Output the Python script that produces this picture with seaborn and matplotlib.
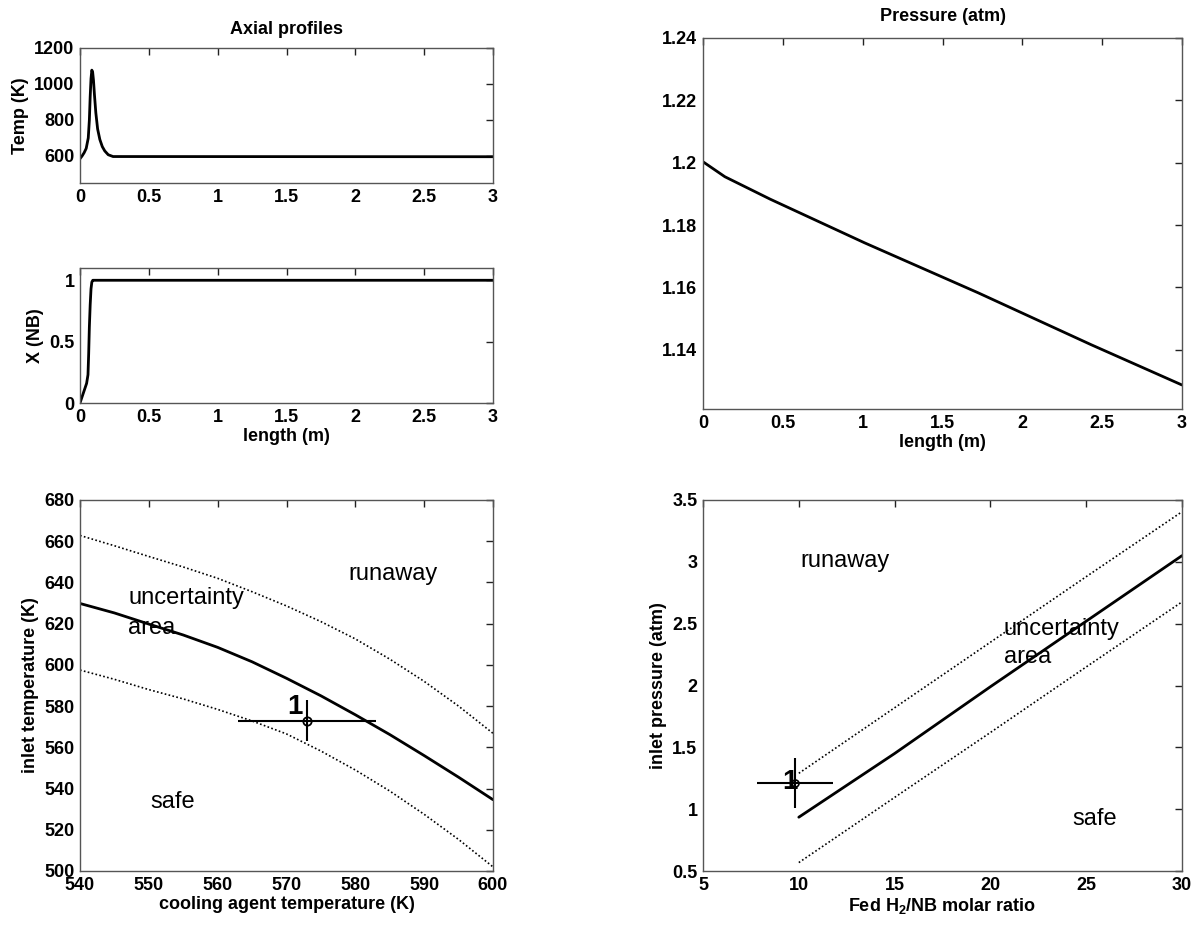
import numpy as np
import pandas as pd
import matplotlib
matplotlib.use('Agg')
import matplotlib.pyplot as plt
import seaborn as sns

sns.set_style('white')
plt.rcParams['font.family'] = ['Liberation Sans', 'DejaVu Sans']
plt.rcParams['font.weight'] = 'bold'
plt.rcParams['mathtext.fontset'] = 'custom'
plt.rcParams['mathtext.bf'] = 'Liberation Sans:bold'
plt.rcParams['text.color'] = 'black'
plt.rcParams['axes.labelcolor'] = 'black'
plt.rcParams['xtick.color'] = 'black'
plt.rcParams['ytick.color'] = 'black'

# ----------------------------------------------------
# Axial profiles
# ----------------------------------------------------
len_temp = [0, 0.015, 0.03, 0.045, 0.06, 0.068, 0.074, 0.08, 0.086, 0.092, 0.098,
            0.105, 0.115, 0.128, 0.144, 0.162, 0.18, 0.205, 0.24, 3.0]
temp_K = [585, 600, 618, 642, 700, 800, 930, 1030, 1077, 1065, 1020,
          940, 840, 750, 692, 652, 628, 607, 597, 596]

len_conv = [0, 0.024, 0.048, 0.058, 0.063, 0.068, 0.074, 0.08, 0.086, 0.093, 0.1, 3.0]
conv_NB = [0, 0.08, 0.16, 0.23, 0.4, 0.62, 0.8, 0.93, 0.985, 1.0, 1.0, 1.0]

len_pres = [0, 0.137, 0.421, 1.012, 1.722, 2.432, 3.0]
pres_atm = [1.2003, 1.1955, 1.1883, 1.1743, 1.1583, 1.1416, 1.1287]

# ----------------------------------------------------
# Runaway boundaries - cooling agent temperature
# ----------------------------------------------------
t_cool = [540, 545, 550, 555, 560, 565, 570, 575, 580, 585, 590, 595, 600]
t_in_mid = [629.8, 625.2, 619.8, 614.5, 608.5, 601.5, 593.5, 585.0, 575.8, 566.2, 556.0, 545.5, 534.6]
t_in_up = [662.8, 657.8, 652.6, 647.5, 642.0, 635.5, 628.6, 621.0, 612.6, 602.8, 592.0, 580.0, 566.8]
t_in_low = [597.5, 593.0, 588.0, 583.5, 578.4, 572.8, 566.5, 558.2, 549.0, 538.8, 527.5, 515.3, 502.0]
pt1_T = (573, 573)
pt1_T_err = (10, 10)

# ----------------------------------------------------
# Runaway boundaries - H2/NB ratio
# ----------------------------------------------------
ratio = [10, 15, 20, 25, 30]
p_in_mid = [0.935, 1.45, 1.99, 2.52, 3.05]
p_in_up = [1.29, 1.82, 2.35, 2.88, 3.405]
p_in_low = [0.568, 1.095, 1.62, 2.15, 2.676]
pt1_P = (9.8, 1.21)
pt1_P_err = (2.0, 0.2)

fig = plt.figure(figsize=(11.92, 9.27), dpi=100)
W, H = 1192, 927
DOT = (0, (1, 1.4))
FS = 13


def box(l, t, r, b):
    return fig.add_axes([l / W, 1 - b / H, (r - l) / W, (b - t) / H])


def style(ax):
    for s in ax.spines.values():
        s.set_color('#555555')
        s.set_linewidth(1.0)
    ax.tick_params(direction='in', top=True, right=True, length=5, width=1,
                   color='#222222', labelcolor='black', labelsize=FS, pad=4)
    for lab in ax.get_xticklabels() + ax.get_yticklabels():
        lab.set_fontweight('bold')


def fmt(v):
    return ('%g' % v)


ax1 = box(80, 48, 493, 183)
ax2 = box(80, 268, 493, 403)
ax3 = box(703, 38, 1182, 409)
ax4 = box(80, 500, 493, 871)
ax5 = box(703, 500, 1182, 871)

len_ticks = np.arange(0, 3.01, 0.5)

# Temp
sns.lineplot(x=len_temp, y=temp_K, ax=ax1, color='k', lw=2, estimator=None, sort=False)
ax1.set_xlim(0, 3)
ax1.set_ylim(450, 1200)
ax1.set_yticks([600, 800, 1000, 1200])
ax1.set_xticks(len_ticks)
ax1.set_xticklabels([fmt(v) for v in len_ticks])
ax1.set_ylabel('Temp (K)', fontsize=FS, fontweight='bold')
ax1.set_title('Axial profiles', fontsize=FS, fontweight='bold', pad=10)

# Conversion
sns.lineplot(x=len_conv, y=conv_NB, ax=ax2, color='k', lw=2, estimator=None, sort=False)
ax2.set_xlim(0, 3)
ax2.set_ylim(0, 1.1)
ax2.set_yticks([0, 0.5, 1])
ax2.set_yticklabels(['0', '0.5', '1'])
ax2.set_xticks(len_ticks)
ax2.set_xticklabels([fmt(v) for v in len_ticks])
ax2.set_ylabel('X (NB)', fontsize=FS, fontweight='bold')
ax2.set_xlabel('length (m)', fontsize=FS, fontweight='bold', labelpad=2)

# Pressure
sns.lineplot(x=len_pres, y=pres_atm, ax=ax3, color='k', lw=2, estimator=None, sort=False)
ax3.set_xlim(0, 3)
ax3.set_ylim(1.121, 1.24)
ax3.set_yticks([1.14, 1.16, 1.18, 1.2, 1.22, 1.24])
ax3.set_yticklabels(['1.14', '1.16', '1.18', '1.2', '1.22', '1.24'])
ax3.set_xticks(len_ticks)
ax3.set_xticklabels([fmt(v) for v in len_ticks])
ax3.set_xlabel('length (m)', fontsize=FS, fontweight='bold', labelpad=2)
ax3.set_title('Pressure (atm)', fontsize=FS, fontweight='bold', pad=12)

# cooling temperature map
sns.lineplot(x=t_cool, y=t_in_mid, ax=ax4, color='k', lw=2, estimator=None)
sns.lineplot(x=t_cool, y=t_in_up, ax=ax4, color='k', lw=1.2, ls=DOT, estimator=None)
sns.lineplot(x=t_cool, y=t_in_low, ax=ax4, color='k', lw=1.2, ls=DOT, estimator=None)
ax4.errorbar(pt1_T[0], pt1_T[1], xerr=pt1_T_err[0], yerr=pt1_T_err[1], fmt='o',
             mfc='none', mec='k', ms=6, mew=1.3, ecolor='k', elinewidth=1.5, capsize=0)
ax4.text(571.2, 573.3, '1', fontsize=20, fontweight='bold', ha='center', va='bottom')
ax4.text(579, 644, 'runaway', fontsize=17, fontweight='normal', va='center')
ax4.text(547, 632.5, 'uncertainty', fontsize=17, fontweight='normal', va='center')
ax4.text(547, 618, 'area', fontsize=17, fontweight='normal', va='center')
ax4.text(550.2, 533.5, 'safe', fontsize=17, fontweight='normal', va='center')
ax4.set_xlim(540, 600)
ax4.set_ylim(500, 680)
ax4.set_xticks(range(540, 601, 10))
ax4.set_yticks(range(500, 681, 20))
ax4.set_xlabel('cooling agent temperature (K)', fontsize=FS, fontweight='bold', labelpad=2)
ax4.set_ylabel('inlet temperature (K)', fontsize=FS, fontweight='bold')

# H2/NB ratio map
sns.lineplot(x=ratio, y=p_in_mid, ax=ax5, color='k', lw=2, estimator=None)
sns.lineplot(x=ratio, y=p_in_up, ax=ax5, color='k', lw=1.2, ls=DOT, estimator=None)
sns.lineplot(x=ratio, y=p_in_low, ax=ax5, color='k', lw=1.2, ls=DOT, estimator=None)
ax5.errorbar(pt1_P[0], pt1_P[1], xerr=pt1_P_err[0], yerr=pt1_P_err[1], fmt='o',
             mfc='none', mec='k', ms=5, mew=1.2, ecolor='k', elinewidth=1.5, capsize=0)
ax5.text(9.55, 1.22, '1', fontsize=20, fontweight='bold', ha='center', va='center')
ax5.text(10.1, 3.01, 'runaway', fontsize=17, fontweight='normal', va='center')
ax5.text(20.7, 2.46, 'uncertainty', fontsize=17, fontweight='normal', va='center')
ax5.text(20.7, 2.23, 'area', fontsize=17, fontweight='normal', va='center')
ax5.text(24.3, 0.92, 'safe', fontsize=17, fontweight='normal', va='center')
ax5.set_xlim(5, 30)
ax5.set_ylim(0.5, 3.5)
ax5.set_xticks(range(5, 31, 5))
ax5.set_yticks(np.arange(0.5, 3.51, 0.5))
ax5.set_yticklabels([fmt(v) for v in np.arange(0.5, 3.51, 0.5)])
ax5.set_xlabel(r'Fed H$_\mathbf{2}$/NB molar ratio', fontsize=FS, fontweight='bold', labelpad=2)
ax5.set_ylabel('inlet pressure (atm)', fontsize=FS, fontweight='bold')

for ax in [ax1, ax2, ax3, ax4, ax5]:
    style(ax)

fig.savefig('out.png', dpi=100, facecolor='white')
